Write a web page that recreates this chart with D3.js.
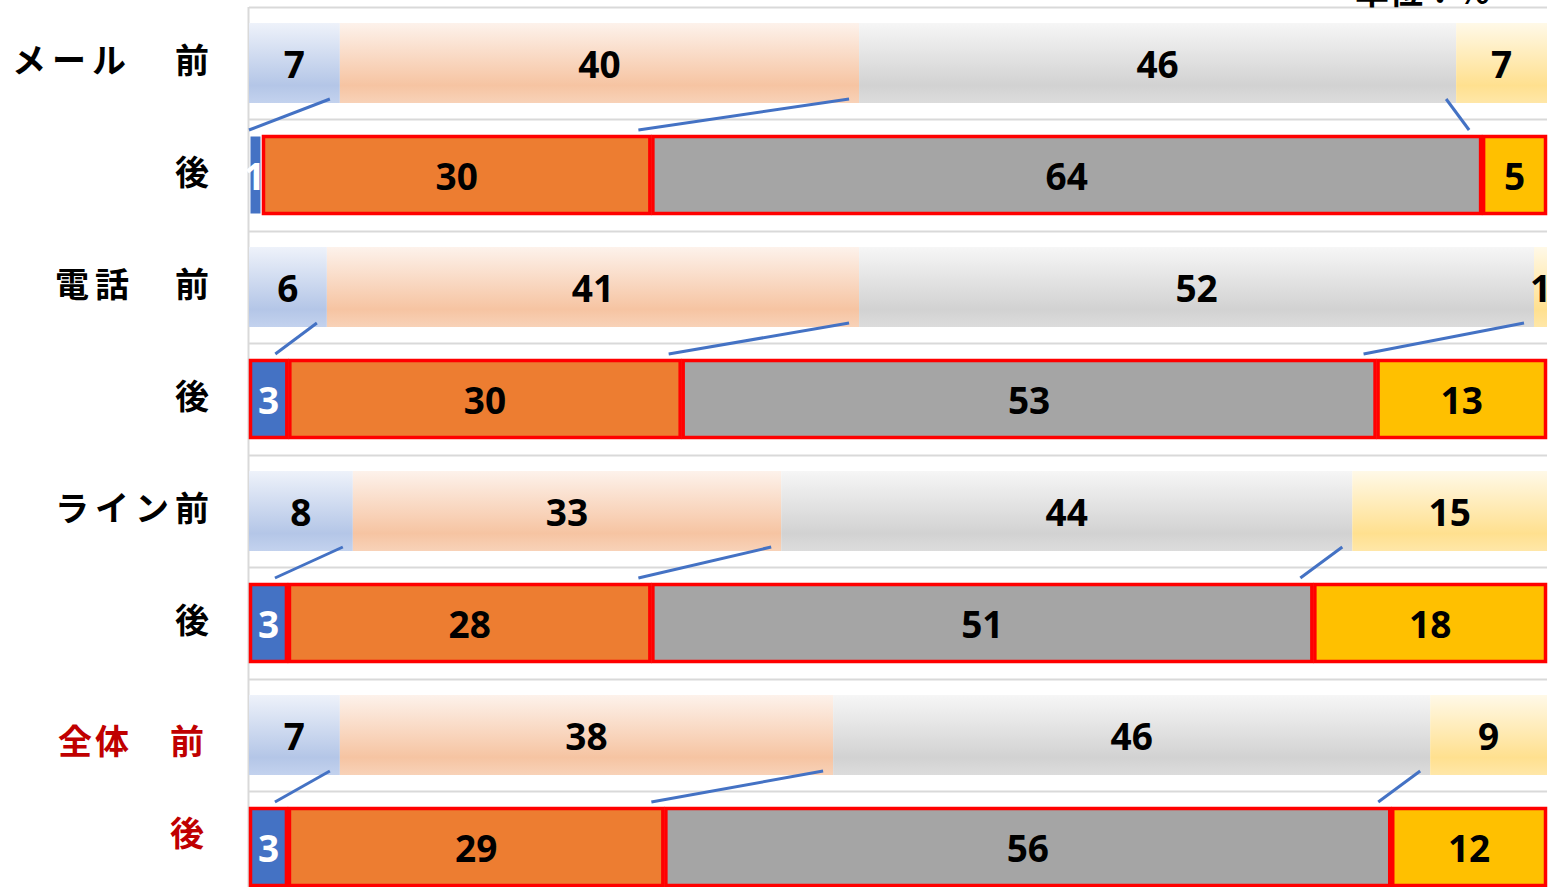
<!DOCTYPE html>
<html lang="ja">
<head>
<meta charset="utf-8">
<title>前後比較</title>
<script src="https://cdn.jsdelivr.net/npm/d3@7/dist/d3.min.js"></script>
<style>
  html, body { margin: 0; padding: 0; background: #fff; overflow: hidden; }
  svg { display: block; }
  .num { font-family: "Noto Sans", "Open Sans", sans-serif; font-weight: 700; font-size: 37px; }
  .rowlab { font-family: "Noto Sans CJK JP", sans-serif; font-weight: 700; font-size: 34px; }
</style>
</head>
<body>
<script>
// data
var groups = ["メール", "電話", "ライン", "全体"];
var phases = ["前", "後"];
var beforeVals = [[7, 40, 46, 7], [6, 41, 52, 1], [8, 33, 44, 15], [7, 38, 46, 9]];
var afterVals  = [[1, 30, 64, 5], [3, 30, 53, 13], [3, 28, 51, 18], [3, 29, 56, 12]];
var unitLabel = "単位：%";

var w = 1553, h = 887;

// colours
var solid = ["#4472c4", "#ed7d31", "#a5a5a5", "#ffc000"];
var grads = [
  ["#eef2fa", "#b4c6e7", "#c3d2ee"],
  ["#fdf2eb", "#f6c4a2", "#f8d2b8"],
  ["#f6f6f6", "#d2d2d2", "#dcdcdc"],
  ["#fff9e8", "#ffe08f", "#ffe7a8"]
];

var svg = d3.select("body").append("svg").attr("width", w).attr("height", h);

var defs = svg.append("defs");
grads.forEach(function(g, i) {
  var lg = defs.append("linearGradient").attr("id", "g" + i)
    .attr("x1", 0).attr("y1", 0).attr("x2", 0).attr("y2", 1);
  lg.append("stop").attr("offset", "0").attr("stop-color", g[0]);
  lg.append("stop").attr("offset", "0.78").attr("stop-color", g[1]);
  lg.append("stop").attr("offset", "1").attr("stop-color", g[2]);
});

// rows: before/after for each group
var rows = [];
groups.forEach(function(gname, gi) {
  rows.push({ key: gname + "前", group: gname, gi: gi, phase: 0, vals: beforeVals[gi] });
  rows.push({ key: gname + "後", group: gname, gi: gi, phase: 1, vals: afterVals[gi] });
});

var x = d3.scaleLinear().domain([0, 100]).range([249, 1547]);
var y = d3.scaleBand().domain(rows.map(function(r) { return r.key; }))
  .range([7, 7 + 8 * 112]).paddingInner(2 / 7).paddingOuter(1 / 7);
var step = y.step();

// stacked (100%) segments
rows.forEach(function(r) {
  var tot = d3.sum(r.vals), c = 0;
  r.segs = r.vals.map(function(v, i) {
    var s = { i: i, v: v, x0: c / tot * 100, x1: (c + v) / tot * 100, row: r };
    c += v;
    return s;
  });
});

// gridlines
var gl = d3.range(rows.length).map(function(i) { return y(rows[i].key) - (step - y.bandwidth()) / 2; });
svg.append("g").selectAll("line").data(gl).enter().append("line")
  .attr("x1", x(0)).attr("x2", x(100))
  .attr("y1", function(d) { return d + 0.5; }).attr("y2", function(d) { return d + 0.5; })
  .attr("stroke", "#d9d9d9").attr("stroke-width", 2);
svg.append("line").attr("x1", x(0) - 0.5).attr("x2", x(0) - 0.5)
  .attr("y1", gl[0]).attr("y2", h).attr("stroke", "#d9d9d9").attr("stroke-width", 2);

// bars
var rowG = svg.append("g").selectAll("g").data(rows).enter().append("g");

rowG.selectAll("rect").data(function(r) { return r.segs; }).enter().append("rect")
  .attr("x", function(d) { return x(d.x0) + (d.row.phase ? 1.5 : 0); })
  .attr("y", function(d) { return y(d.row.key) + (d.row.phase ? 1.5 : 0); })
  .attr("width", function(d) { return x(d.x1) - x(d.x0) - (d.row.phase ? 3 : 0); })
  .attr("height", function(d) { return y.bandwidth() - (d.row.phase ? 3 : 0); })
  .attr("fill", function(d) { return d.row.phase ? solid[d.i] : "url(#g" + d.i + ")"; })
  .attr("stroke", function(d) { return d.row.phase && d.v > 1 ? "#ff0000" : "none"; })
  .attr("stroke-width", 3.5);

rowG.selectAll("text").data(function(r) { return r.segs; }).enter().append("text")
  .attr("class", "num")
  .attr("x", function(d) { return (x(d.x0) + x(d.x1)) / 2 + (d.v === 1 && d.row.phase ? -1 : 0); })
  .attr("y", function(d) { return y(d.row.key) + y.bandwidth() / 2; })
  .attr("dy", "0.4em")
  .attr("text-anchor", "middle")
  .attr("fill", function(d) { return d.row.phase && d.i === 0 ? "#ffffff" : "#000000"; })
  .text(function(d) { return d.v; });

// connector lines between before and after boundaries
var conns = [];
groups.forEach(function(gname, gi) {
  var b = rows[gi * 2], a = rows[gi * 2 + 1];
  for (var k = 0; k < 3; k++) {
    conns.push({ bx: b.segs[k].x1, ax: a.segs[k].x1, by: y(b.key) + y.bandwidth(), ay: y(a.key) });
  }
});
svg.append("g").selectAll("line").data(conns).enter().append("line")
  .attr("x1", function(d) { return x(d.bx) - 10; })
  .attr("y1", function(d) { return d.by - 4; })
  .attr("x2", function(d) { return x(d.ax) - 13; })
  .attr("y2", function(d) { return d.ay - 5; })
  .attr("stroke", "#4472c4").attr("stroke-width", 3);

// row labels
var labG = svg.append("g");
rows.forEach(function(r) {
  var last = r.gi === groups.length - 1;
  var col = last ? "#c00000" : "#000000";
  var cy = y(r.key) + y.bandwidth() / 2 + (last ? (r.phase ? -14 : 6) : -3);
  var px = last ? 170 : 175;
  labG.append("text").attr("class", "rowlab")
    .attr("x", px).attr("y", cy).attr("dy", "0.38em")
    .attr("fill", col).text(phases[r.phase]);
  if (r.phase === 0) {
    var chars = r.group.split("");
    var gx = last ? px - 40 * 3 + 8 : px - 40 * (chars.length === 3 ? 4 : 3);
    if (chars.length === 3 && r.group !== "メール") gx = px - 40 * 3;
    if (r.group === "メール") gx -= 3;
    chars.forEach(function(ch, k) {
      labG.append("text").attr("class", "rowlab")
        .attr("x", gx + k * (last ? 37 : 40)).attr("y", cy).attr("dy", "0.38em")
        .attr("fill", col).text(ch);
    });
  }
});

// unit label (cut at top)
svg.append("text").attr("class", "rowlab")
  .attr("x", 1355).attr("y", 4).attr("fill", "#000").text(unitLabel);
</script>
</body>
</html>
